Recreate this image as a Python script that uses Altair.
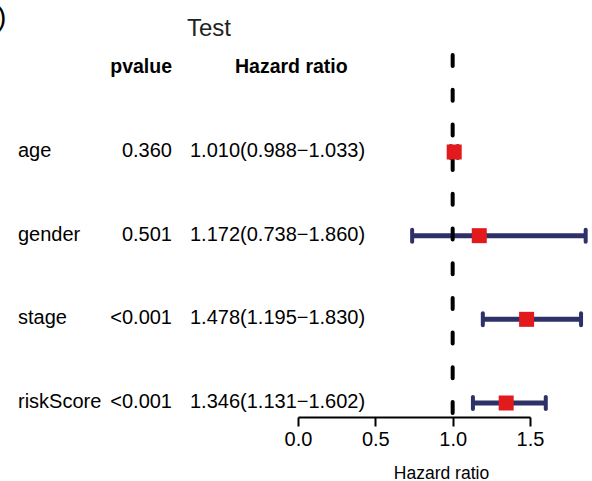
import altair as alt
import pandas as pd

names = ["age", "gender", "stage", "riskScore"]
pvalues = ["0.360", "0.501", "<0.001", "<0.001"]
hr = [1.010, 1.172, 1.478, 1.346]
low = [0.988, 0.738, 1.195, 1.131]
high = [1.033, 1.860, 1.830, 1.602]
axis_ticks = [0.0, 0.5, 1.0, 1.5]

df = pd.DataFrame({
    "name": names,
    "pvalue": pvalues,
    "hr": hr,
    "low": low,
    "high": high,
    "hrtext": [f"{h:.3f}({l:.3f}\u2212{u:.3f})" for h, l, u in zip(hr, low, high)],
})

FONT = "Liberation Sans"
NAVY = "#2E3168"
RED = "#E31A1C"
X0 = 298  # left padding (pixel position of 0.0)

xscale = alt.Scale(domain=[0, 1.5], nice=False, zero=False)
yenc = alt.Y("name:N", sort=names, scale=alt.Scale(type="point", range=[152, 403], padding=0), axis=None)

base = alt.Chart(df)

bars = base.mark_rule(color=NAVY, strokeWidth=5, opacity=1).encode(
    x=alt.X("low:Q", scale=xscale,
            axis=alt.Axis(values=axis_ticks, format=".1f", title="Hazard ratio",
                          grid=False, domainColor="black", domainWidth=2,
                          tickColor="black", tickWidth=2, tickSize=9,
                          labelFont=FONT, labelFontSize=20, labelColor="black",
                          labelFlush=False, labelOverlap=False,
                          labelBaseline="alphabetic", labelPadding=19,
                          titleFont=FONT, titleFontSize=17.5, titleFontWeight="normal",
                          titleColor="black", titleX=143, titleY=61,
                          titleBaseline="alphabetic", titleAlign="center")),
    x2="high:Q",
    y=yenc,
)

caps_low = base.mark_tick(color=NAVY, thickness=4, size=16, cornerRadius=2, opacity=1).encode(
    x=alt.X("low:Q", scale=xscale), y=yenc)
caps_high = base.mark_tick(color=NAVY, thickness=4, size=16, cornerRadius=2, opacity=1).encode(
    x=alt.X("high:Q", scale=xscale), y=yenc)

ref = alt.Chart(pd.DataFrame({"ref": [1.0]})).mark_rule(
    color="black", strokeWidth=4, strokeDash=[11, 23.7], strokeCap="round", opacity=1
).encode(x=alt.X("ref:Q", scale=xscale), y=alt.value(55), y2=alt.value(417))

squares = base.mark_square(color=RED, size=225, opacity=1).encode(
    x=alt.X("hr:Q", scale=xscale), y=yenc)

name_txt = base.mark_text(font=FONT, fontSize=20, align="left", baseline="alphabetic", dy=5, color="black").encode(
    x=alt.value(18 - X0), y=yenc, text="name:N")
p_txt = base.mark_text(font=FONT, fontSize=20, align="right", baseline="alphabetic", dy=5, color="black").encode(
    x=alt.value(172 - X0), y=yenc, text="pvalue:N")
hr_txt = base.mark_text(font=FONT, fontSize=20, align="left", baseline="alphabetic", dy=5, color="black").encode(
    x=alt.value(190 - X0), y=yenc, text="hrtext:N")

hdr_p = alt.Chart(pd.DataFrame({"t": ["pvalue"]})).mark_text(
    font=FONT, fontSize=19.5, fontWeight="bold", align="right", baseline="alphabetic", color="black"
).encode(x=alt.value(172 - X0), y=alt.value(73), text="t:N")
hdr_h = alt.Chart(pd.DataFrame({"t": ["Hazard ratio"]})).mark_text(
    font=FONT, fontSize=19.5, fontWeight="bold", align="left", baseline="alphabetic", color="black"
).encode(x=alt.value(235 - X0), y=alt.value(73), text="t:N")

title_txt = alt.Chart(pd.DataFrame({"t": ["Test"]})).mark_text(
    font=FONT, fontSize=24, align="left", baseline="alphabetic", color="#222222"
).encode(x=alt.value(187 - X0), y=alt.value(36), text="t:N")

corner_txt = alt.Chart(pd.DataFrame({"t": [")"]})).mark_text(
    font=FONT, fontSize=28, align="left", baseline="alphabetic", color="black"
).encode(x=alt.value(-3 - X0), y=alt.value(26), text="t:N")

chart = alt.layer(
    bars, caps_low, caps_high, ref, squares,
    name_txt, p_txt, hr_txt, hdr_p, hdr_h, title_txt, corner_txt
).properties(
    width=232, height=417,
    padding={"left": X0, "top": 0, "right": 62, "bottom": 64},
    autosize=alt.AutoSizeParams(type="none"),
    background="white",
).configure_view(stroke=None)

chart.save("out.html", embed_options={"renderer": "svg", "actions": False})
